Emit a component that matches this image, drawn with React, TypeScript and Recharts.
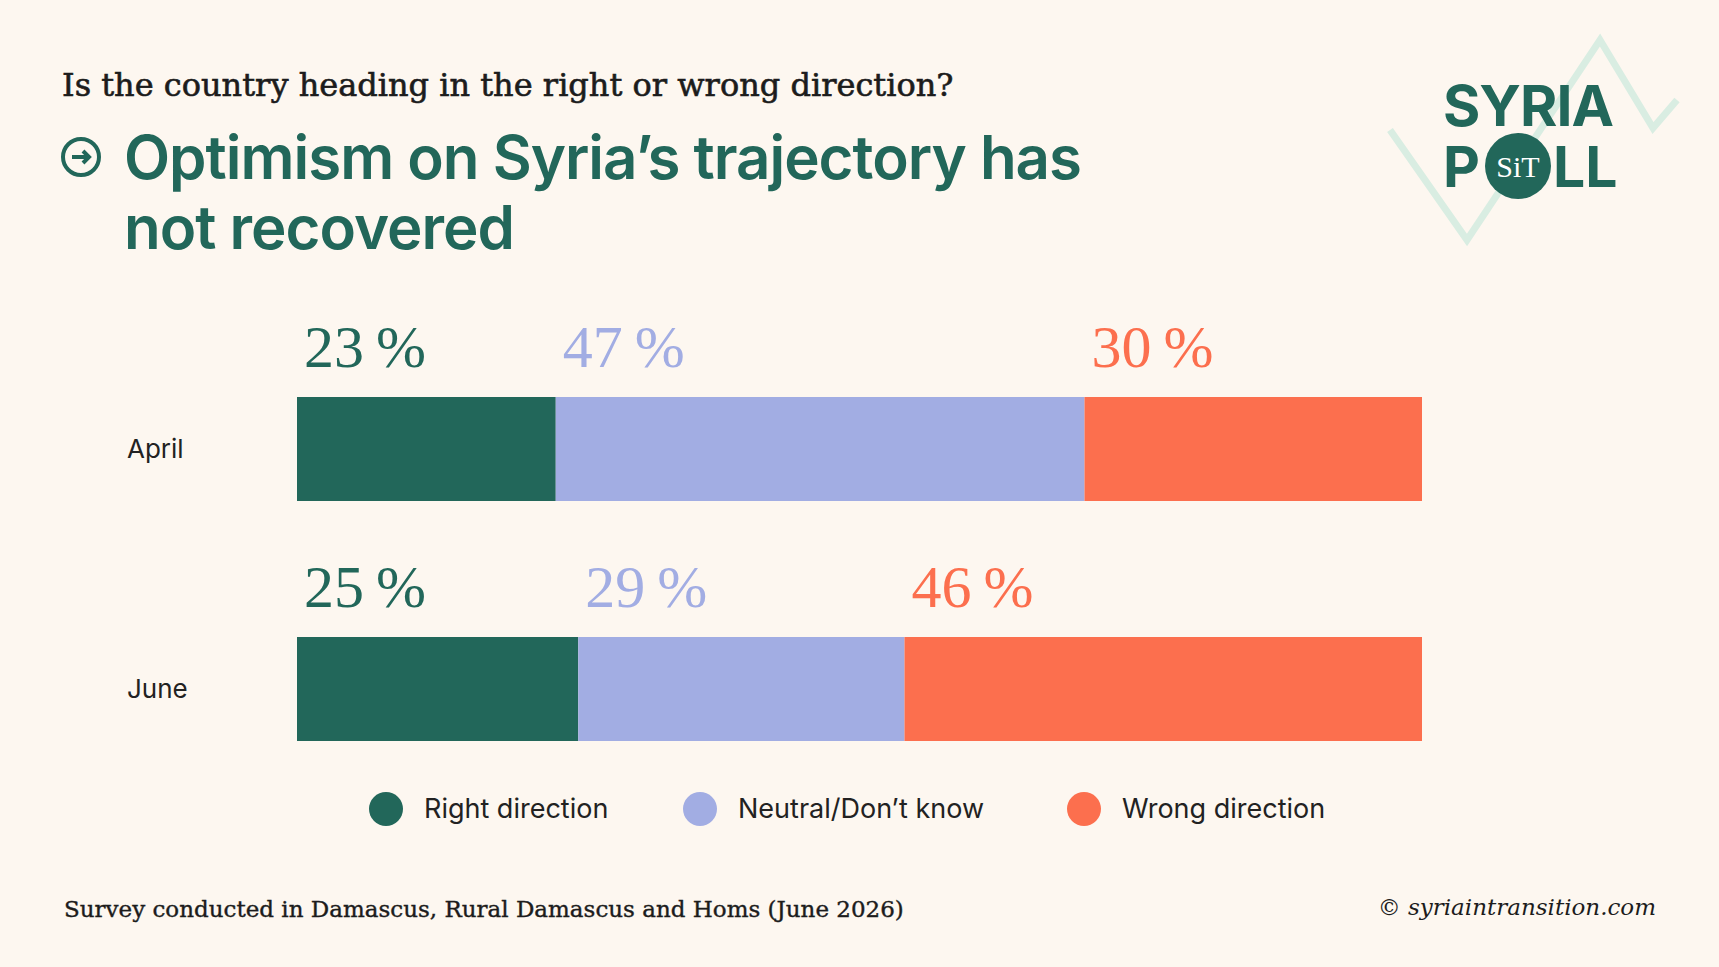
import React from "react";
import { BarChart, Bar, XAxis, YAxis, LabelList } from "recharts";

const MONTHS = ["April", "June"];
const RIGHT = [23, 25];
const NEUTRAL = [47, 29];
const WRONG = [30, 46];

const SERIES = [
  { key: "right", label: "Right direction", color: "#22675a" },
  { key: "neutral", label: "Neutral/Don\u2019t know", color: "#a2ade3" },
  { key: "wrong", label: "Wrong direction", color: "#fc6f4e" },
];

const data = MONTHS.map((m, i) => ({ month: m, right: RIGHT[i], neutral: NEUTRAL[i], wrong: WRONG[i] }));

const BG = "#fdf7f0";
const GREEN = "#22675a";
const SANS = "Inter, 'Noto Sans', sans-serif";
const SERIF = "'DejaVu Serif', 'Liberation Serif', serif";

function pctLabel(color: string) {
  return (props: any) => {
    const { x, y, value } = props;
    return (
      <text x={x + 7} y={y - 30} fill={color} fontFamily="'Liberation Serif', serif" fontSize={60}>
        {value}{"\u2009"}%
      </text>
    );
  };
}

function MonthTick(props: any) {
  const { y, payload } = props;
  return (
    <text x={127} y={y + 9} fill="#222" fontFamily={SANS} fontSize={26}>
      {payload.value}
    </text>
  );
}

export default function App() {
  return (
    <div style={{ position: "fixed", left: 0, top: 0, width: 1719, height: 967, background: BG, overflow: "hidden" }}>
      <svg width={1719} height={967} style={{ position: "absolute", left: 0, top: 0 }}>
        <polyline points="1390,130 1467,240 1600,40 1653,128 1677,100" fill="none" stroke="#d9ede2" strokeWidth={7} />
        <text x={1443} y={126} fill={GREEN} fontFamily={SANS} fontWeight={700} fontSize={57} letterSpacing={-1}>SYRIA</text>
        <text x={1443} y={187} fill={GREEN} fontFamily={SANS} fontWeight={700} fontSize={57}>P</text>
        <text x={1553} y={187} fill={GREEN} fontFamily={SANS} fontWeight={700} fontSize={57}>LL</text>
        <circle cx={1518} cy={166} r={33} fill={GREEN} />
        <text x={1518} y={177} fill="#fff" fontFamily="'Liberation Serif', serif" fontSize={30} textAnchor="middle">SiT</text>
        <text x={62} y={96} fill="#1c1c1c" stroke="#1c1c1c" strokeWidth={0.6} fontFamily={SERIF} fontSize={32}>
          Is the country heading in the right or wrong direction?
        </text>
        <circle cx={81} cy={157} r={18} fill="none" stroke={GREEN} strokeWidth={4} />
        <path d="M72,157 H89 M83,151 L89,157 L83,163" fill="none" stroke={GREEN} strokeWidth={4} />
        <text x={124} y={179} fill={GREEN} fontFamily={SANS} fontWeight={600} fontSize={60} letterSpacing={-1}>
          Optimism on Syria’s trajectory has
        </text>
        <text x={124} y={249} fill={GREEN} fontFamily={SANS} fontWeight={600} fontSize={60} letterSpacing={-1}>
          not recovered
        </text>
        {SERIES.map((s, i) => {
          const cx = [386, 700, 1084][i];
          return (
            <g key={s.key}>
              <circle cx={cx} cy={809} r={17} fill={s.color} />
              <text x={cx + 38} y={818} fill="#222" fontFamily={SANS} fontSize={27}>{s.label}</text>
            </g>
          );
        })}
        <text x={64} y={917} fill="#1c1c1c" stroke="#1c1c1c" strokeWidth={0.4} fontFamily={SERIF} fontSize={23}>
          Survey conducted in Damascus, Rural Damascus and Homs (June 2026)
        </text>
        <text x={1656} y={915} fill="#1c1c1c" fontFamily={SERIF} fontStyle="italic" fontSize={23} textAnchor="end">
          © syriaintransition.com
        </text>
      </svg>
      <div style={{ position: "absolute", left: 0, top: 0 }}>
        <BarChart
          width={1719}
          height={967}
          data={data}
          layout="vertical"
          margin={{ top: 329, right: 297, bottom: 158, left: 127 }}
          barSize={104}
        >
          <XAxis type="number" domain={[0, 100]} hide />
          <YAxis type="category" dataKey="month" width={170} axisLine={false} tickLine={false} tick={<MonthTick />} />
          {SERIES.map((s) => (
            <Bar key={s.key} dataKey={s.key} stackId="a" fill={s.color} isAnimationActive={false}>
              <LabelList dataKey={s.key} content={pctLabel(s.color)} />
            </Bar>
          ))}
        </BarChart>
      </div>
    </div>
  );
}
